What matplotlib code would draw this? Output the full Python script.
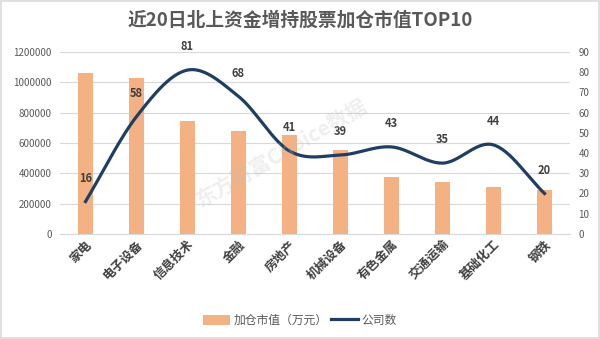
import matplotlib
matplotlib.use("Agg")
import matplotlib.pyplot as plt
import matplotlib.ticker as mticker
import numpy as np
from matplotlib.patches import Rectangle

plt.rcParams['font.family'] = ['Noto Sans CJK SC', 'DejaVu Sans']

categories = ['家电', '电子设备', '信息技术', '金融', '房地产', '机械设备',
              '有色金属', '交通运输', '基础化工', '钢铁']
market_value = [1060000, 1030000, 745000, 680000, 650000, 555000,
                376000, 343000, 310000, 290000]
company_count = [16, 58, 81, 68, 41, 39, 43, 35, 44, 20]

bar_color = '#F4B183'
line_color = '#1F3E64'
text_color = '#595959'


def smooth(xs, ys, n=30):
    # Catmull-Rom curve, like Excel's smoothed line
    px = np.concatenate([[2 * xs[0] - xs[1]], xs, [2 * xs[-1] - xs[-2]]])
    py = np.concatenate([[2 * ys[0] - ys[1]], ys, [2 * ys[-1] - ys[-2]]])
    out_x, out_y = [], []
    t = np.linspace(0, 1, n)
    for i in range(1, len(px) - 2):
        for p, out in ((px, out_x), (py, out_y)):
            p0, p1, p2, p3 = p[i - 1], p[i], p[i + 1], p[i + 2]
            out.extend(0.5 * ((2 * p1) + (-p0 + p2) * t
                              + (2 * p0 - 5 * p1 + 4 * p2 - p3) * t ** 2
                              + (-p0 + 3 * p1 - 3 * p2 + p3) * t ** 3))
    return np.array(out_x), np.array(out_y)


fig = plt.figure(figsize=(6, 3.39), dpi=100)
fig.patches.append(Rectangle((0.002, 0.003), 0.996, 0.994, transform=fig.transFigure,
                             fill=False, edgecolor='#D9D9D9', lw=1.2))

ax = fig.add_axes([0.1, 0.31, 0.85, 0.537])
x = np.arange(len(categories))
bars = ax.bar(x, market_value, width=0.3, color=bar_color, label='加仓市值（万元）', zorder=2)
ax.set_ylim(0, 1200000)
ax.set_yticks(range(0, 1200001, 200000))
ax.yaxis.set_major_formatter(mticker.StrMethodFormatter('{x:.0f}'))
ax.set_xlim(-0.5, len(categories) - 0.5)
ax.grid(axis='y', color='#D9D9D9', lw=0.8, zorder=0)
ax.set_axisbelow(True)
for s in ax.spines.values():
    s.set_visible(False)
ax.spines['bottom'].set_visible(True)
ax.spines['bottom'].set_color('#D9D9D9')
ax.tick_params(axis='y', length=0, labelsize=7, labelcolor=text_color, pad=6)
ax.tick_params(axis='x', length=0, labelsize=9, labelcolor='#404040', pad=3)
ax.set_xticks(x)
ax.set_xticklabels(categories, rotation=45, ha='right', rotation_mode='anchor',
                   fontweight='bold')

ax2 = ax.twinx()
sx, sy = smooth(x.astype(float), np.array(company_count, dtype=float))
line, = ax2.plot(sx, sy, color=line_color, lw=2.3, label='公司数', zorder=3)
ax2.set_ylim(0, 90)
ax2.set_yticks(range(0, 91, 10))
for s in ax2.spines.values():
    s.set_visible(False)
ax2.tick_params(axis='y', length=0, labelsize=7, labelcolor=text_color, pad=6)
for xi, v in zip(x, company_count):
    ax2.annotate(str(v), (xi, v), xytext=(0, 12), textcoords='offset points',
                 ha='center', va='bottom', fontsize=8, fontweight='bold', color='#404040')

fig.text(0.5, 0.94, '近20日北上资金增持股票加仓市值TOP10', ha='center', va='center',
         fontsize=13.5, fontweight='bold', color=text_color)

fig.text(0.47, 0.55, '东方财富Choice数据', ha='center', va='center', rotation=30,
         fontsize=15, fontweight='bold', color='#BFBFBF', alpha=0.25)

fig.legend([bars, line], ['加仓市值（万元）', '公司数'], loc='center', bbox_to_anchor=(0.5, 0.055),
           ncol=2, frameon=False, fontsize=8.5, handlelength=2.3, handleheight=0.9,
           columnspacing=0.3, handletextpad=0.3, labelcolor=text_color)

fig.savefig('out.png', dpi=100)
